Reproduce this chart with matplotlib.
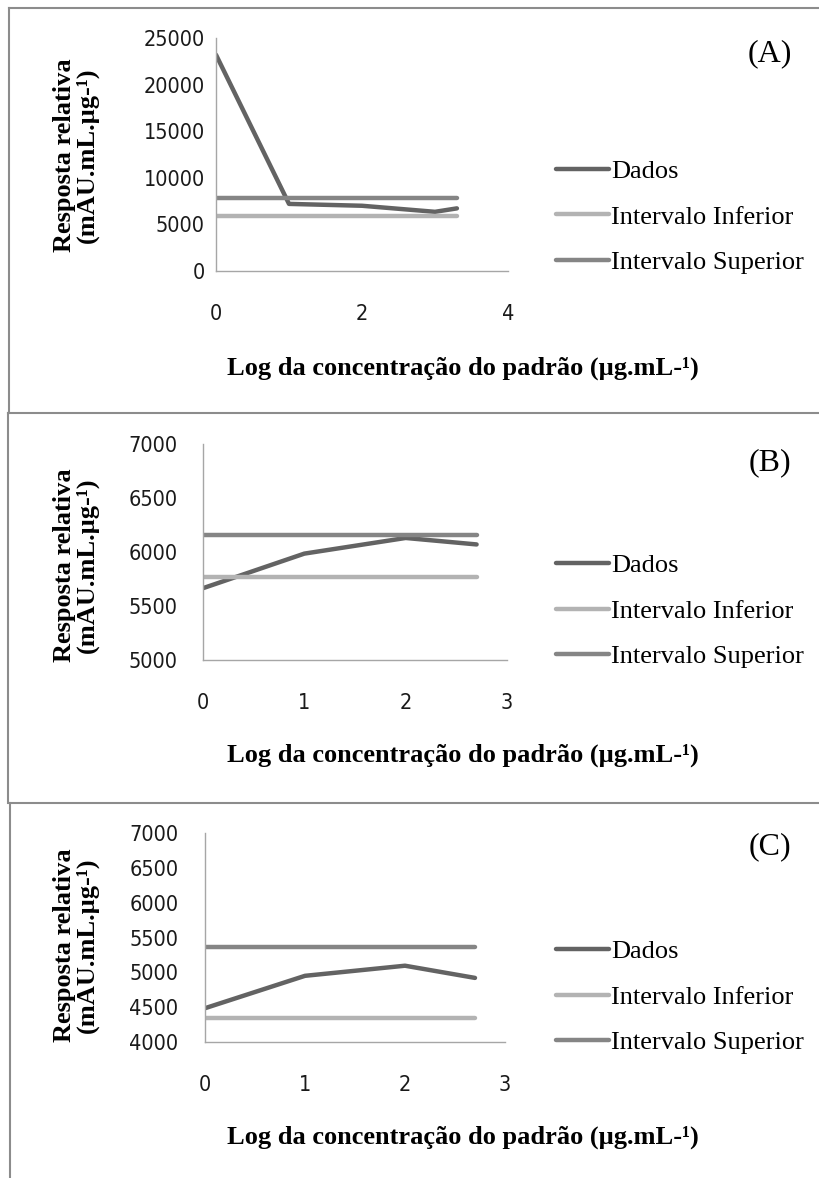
import matplotlib
matplotlib.use("Agg")
import matplotlib.pyplot as plt
from matplotlib.lines import Line2D

# dados
x_a = [0, 1, 2, 3, 3.3]
dados_a = [23200, 7200, 7000, 6350, 6720]
inferior_a = [5930, 5930, 5930, 5930, 5930]
superior_a = [7870, 7870, 7870, 7870, 7870]

x_b = [0, 1, 2, 2.7]
dados_b = [5665, 5985, 6130, 6070]
inferior_b = [5765, 5765, 5765, 5765]
superior_b = [6155, 6155, 6155, 6155]

x_c = [0, 1, 2, 2.7]
dados_c = [4485, 4950, 5095, 4920]
inferior_c = [4350, 4350, 4350, 4350]
superior_c = [5370, 5370, 5370, 5370]

series_names = ["Dados", "Intervalo Inferior", "Intervalo Superior"]
series_colors = ["#636363", "#b3b3b3", "#858585"]
panel_tags = ["(A)", "(B)", "(C)"]
xlabel = "Log da concentração do padrão (µg.mL-¹)"
ylabel = "Resposta relativa\n(mAU.mL.µg-¹)"

W, H = 820, 1178
tick_font = ["DejaVu Sans"]
serif = ["Liberation Serif", "DejaVu Serif"]

fig = plt.figure(figsize=(W / 100, H / 100), dpi=100)


def fx(px):
    return px / W


def fy(py):
    return 1 - py / H


def panel(box, xs, ys, xlim, xticks, ylim, yticks, ypad, tag, tag_y, leg_y, ylab_y, xlab_y):
    left, right, top, bottom = box
    ax = fig.add_axes([fx(left), fy(bottom), fx(right - left), (bottom - top) / H])
    for y, name, c in zip(ys, series_names, series_colors):
        ax.plot(xs, y, color=c, lw=3.2, label=name, solid_capstyle="round")
    ax.set_xlim(*xlim)
    ax.set_ylim(*ylim)
    ax.set_xticks(xticks)
    ax.set_yticks(yticks)
    for s in ["top", "right"]:
        ax.spines[s].set_visible(False)
    for s in ["left", "bottom"]:
        ax.spines[s].set_color("#a6a6a6")
        ax.spines[s].set_linewidth(1.0)
    ax.tick_params(axis="both", length=0, labelsize=15.5, labelcolor="#1a1a1a")
    ax.tick_params(axis="y", pad=ypad)
    ax.tick_params(axis="x", pad=24)
    for lab in ax.get_xticklabels() + ax.get_yticklabels():
        lab.set_family(tick_font)
        lab.set_stretch("condensed")
    ax.patch.set_alpha(0)

    fig.legend(loc="center left", bbox_to_anchor=(fx(556), fy(leg_y)),
               handles=ax.get_lines(), labels=series_names, frameon=False,
               prop={"family": serif, "size": 19}, handlelength=2.0,
               handletextpad=0.1, labelspacing=0.84, borderpad=0, borderaxespad=0)
    fig.text(fx(770), fy(tag_y), tag, ha="center", va="center",
             family=serif, fontsize=23)
    fig.text(fx(76), fy(ylab_y), ylabel, ha="center", va="center", rotation=90,
             family=serif, fontsize=19, fontweight="bold", multialignment="center",
             linespacing=0.95)
    fig.text(fx(463), fy(xlab_y), xlabel, ha="center", va="center",
             family=serif, fontsize=19, fontweight="bold")
    return ax


panel((216, 508, 38, 271), x_a, [dados_a, inferior_a, superior_a],
      (0, 4), [0, 2, 4], (0, 25000), range(0, 25001, 5000), 8,
      panel_tags[0], 54, 217, 155, 368)
panel((203, 507, 444, 660), x_b, [dados_b, inferior_b, superior_b],
      (0, 3), [0, 1, 2, 3], (5000, 7000), range(5000, 7001, 500), 18,
      panel_tags[1], 463, 611, 565, 755)
panel((205, 505, 833, 1042), x_c, [dados_c, inferior_c, superior_c],
      (0, 3), [0, 1, 2, 3], (4000, 7000), range(4000, 7001, 500), 19,
      panel_tags[2], 847, 997, 945, 1137)

# molduras cinzas dos tres paineis
border = dict(color="#8c8c8c", lw=1.5)
fig.add_artist(Line2D([fx(9), 1], [fy(8), fy(8)], **border))
fig.add_artist(Line2D([fx(9), fx(9)], [fy(8), fy(413)], **border))
fig.add_artist(Line2D([fx(8), 1], [fy(413), fy(413)], **border))
fig.add_artist(Line2D([fx(8), fx(8)], [fy(413), fy(803)], **border))
fig.add_artist(Line2D([fx(10), 1], [fy(803), fy(803)], **border))
fig.add_artist(Line2D([fx(10), fx(10)], [fy(803), 0], **border))

fig.savefig("out.png", dpi=100)
